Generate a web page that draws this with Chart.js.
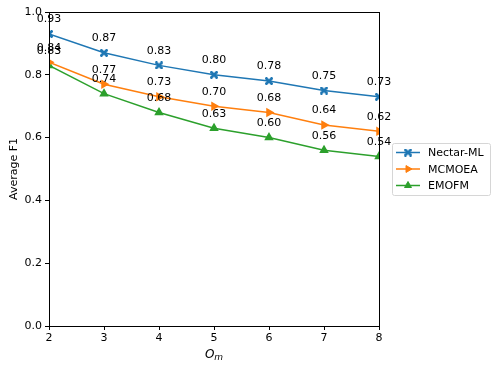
<!DOCTYPE html>
<html>
<head>
<meta charset="utf-8">
<script src="https://cdn.jsdelivr.net/npm/chart.js@4/dist/chart.umd.min.js"></script>
<style>
  html, body { margin: 0; padding: 0; background: #fff; }
  #wrap { width: 499px; height: 369px; }
</style>
</head>
<body>
<div id="wrap"><canvas id="chart" width="499" height="369"></canvas></div>
<script>
// values
const omValues = [2, 3, 4, 5, 6, 7, 8];
const nectarML = [0.93, 0.87, 0.83, 0.80, 0.78, 0.75, 0.73];
const mcmoea = [0.84, 0.77, 0.73, 0.70, 0.68, 0.64, 0.62];
const emofm = [0.83, 0.74, 0.68, 0.63, 0.60, 0.56, 0.54];
const seriesNames = ["Nectar-ML", "MCMOEA", "EMOFM"];

const FONT = "DejaVu Sans";

// filled "X" marker like matplotlib
function makeX(color, size) {
    var c = document.createElement("canvas");
    c.width = size; c.height = size;
    var g = c.getContext("2d");
    var h = size / 2, t = size * 0.17;
    g.translate(h, h);
    g.rotate(Math.PI / 4);
    g.fillStyle = color;
    g.fillRect(-h * 1.25, -t, h * 2.5, t * 2);
    g.fillRect(-t, -h * 1.25, t * 2, h * 2.5);
    return c;
}

function toPoints(vals) {
    return vals.map((v, i) => ({ x: omValues[i], y: v }));
}

const colors = ['#1f77b4', '#ff7f0e', '#2ca02c'];
const xMarker = makeX(colors[0], 8);

const labelPlugin = {
    id: 'valueLabels',
    afterDatasetsDraw(chart) {
        const ctx = chart.ctx;
        ctx.save();
        ctx.font = "11px " + FONT;
        ctx.fillStyle = '#000';
        ctx.textAlign = 'center';
        ctx.textBaseline = 'bottom';
        chart.data.datasets.forEach((ds, di) => {
            chart.getDatasetMeta(di).data.forEach((pt, i) => {
                ctx.fillText(ds.data[i].y.toFixed(2), pt.x, pt.y - 9);
            });
        });
        ctx.restore();
    }
};

const framePlugin = {
    id: 'frame',
    afterDraw(chart) {
        const a = chart.chartArea, ctx = chart.ctx;
        ctx.save();
        ctx.strokeStyle = '#000';
        ctx.lineWidth = 1;
        ctx.strokeRect(Math.round(a.left) + 0.5, Math.round(a.top) + 0.5,
            Math.round(a.right - a.left), Math.round(a.bottom - a.top));

        // x axis title: italic O with subscript m
        ctx.fillStyle = '#000';
        ctx.textBaseline = 'alphabetic';
        ctx.textAlign = 'left';
        ctx.font = "italic 12px " + FONT;
        const cx = (a.left + a.right) / 2;
        const ow = ctx.measureText('O').width;
        ctx.font = "italic 9px " + FONT;
        const mw = ctx.measureText('m').width;
        const sx = cx - (ow + mw) / 2;
        ctx.font = "italic 12px " + FONT;
        ctx.fillText('O', sx, 358);
        ctx.font = "italic 9px " + FONT;
        ctx.fillText('m', sx + ow, 360);

        // legend box, matplotlib style
        const lx = 392, ly = 143, lw = 98, lh = 52;
        ctx.fillStyle = 'rgba(255,255,255,0.8)';
        ctx.strokeStyle = '#d6d6d6';
        ctx.beginPath();
        ctx.roundRect(lx + 0.5, ly + 0.5, lw, lh, 2);
        ctx.fill();
        ctx.stroke();
        ctx.font = "11px " + FONT;
        ctx.textBaseline = 'middle';
        ctx.textAlign = 'left';
        chart.data.datasets.forEach((ds, i) => {
            const y = ly + 9.5 + i * 16.5;
            ctx.strokeStyle = ds.borderColor;
            ctx.lineWidth = 1.5;
            ctx.beginPath();
            ctx.moveTo(lx + 4, y);
            ctx.lineTo(lx + 28, y);
            ctx.stroke();
            ctx.fillStyle = ds.backgroundColor;
            ctx.lineWidth = 1;
            Chart.helpers.drawPoint(ctx, {
                pointStyle: ds.pointStyle,
                rotation: ds.pointRotation || 0,
                radius: ds.pointRadius,
                borderWidth: 1
            }, lx + 16, y);
            ctx.fillStyle = '#000';
            ctx.fillText(ds.label, lx + 36, y + 1);
        });
        ctx.restore();
    }
};

const data = {
    datasets: [
        {
            label: seriesNames[0],
            data: toPoints(nectarML),
            borderColor: colors[0],
            backgroundColor: colors[0],
            borderWidth: 1.5,
            pointStyle: xMarker,
            pointRadius: 3.5
        },
        {
            label: seriesNames[1],
            data: toPoints(mcmoea),
            borderColor: colors[1],
            backgroundColor: colors[1],
            borderWidth: 1.5,
            pointStyle: 'triangle',
            pointRotation: 90,
            pointRadius: 4
        },
        {
            label: seriesNames[2],
            data: toPoints(emofm),
            borderColor: colors[2],
            backgroundColor: colors[2],
            borderWidth: 1.5,
            pointStyle: 'triangle',
            pointRadius: 4
        }
    ]
};

const config = {
    type: 'line',
    data: data,
    options: {
        responsive: false,
        animation: false,
        layout: { padding: { top: 12, right: 120, left: 8, bottom: 0 } },
        plugins: {
            legend: { display: false },
            tooltip: { enabled: false }
        },
        elements: { line: { tension: 0 } },
        scales: {
            x: {
                type: 'linear',
                min: 2,
                max: 8,
                grid: { drawOnChartArea: false, color: '#000', tickLength: 4, tickColor: '#000' },
                border: { color: '#000' },
                ticks: { stepSize: 1, color: '#000', font: { family: FONT, size: 11 }, padding: 2, maxRotation: 0 },
                afterFit(scale) { scale.height = 43; }
            },
            y: {
                min: 0,
                max: 1,
                grid: { drawOnChartArea: false, color: '#000', tickLength: 4, tickColor: '#000' },
                border: { color: '#000' },
                ticks: {
                    stepSize: 0.2, color: '#000', font: { family: FONT, size: 11 }, padding: 3,
                    callback: v => v.toFixed(1)
                },
                title: { display: true, text: 'Average F1', color: '#000', font: { family: FONT, size: 11 }, padding: { top: 0, bottom: 2 } },
                afterFit(scale) { scale.width = 41; }
            }
        }
    },
    plugins: [labelPlugin, framePlugin]
};

new Chart(document.getElementById('chart'), config);
</script>
</body>
</html>
